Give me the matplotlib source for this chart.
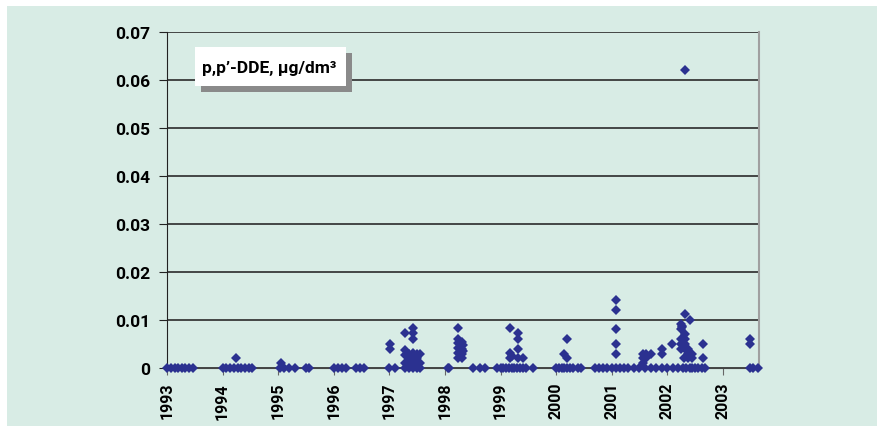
import matplotlib

matplotlib.use("Agg")

import matplotlib.pyplot as plt
from matplotlib.patches import Rectangle

plt.rcParams["font.family"] = ["Liberation Sans Narrow", "DejaVu Sans Condensed",
                               "Roboto", "DejaVu Sans"]
plt.rcParams["font.stretch"] = "condensed"

BG = "#d8ece5"
MARK = "#2b3190"

# sampling dates (decimal years) and p,p'-DDE concentrations, ug/dm3
dates_1993_1996 = [
    1993.0, 1993.07, 1993.14, 1993.2, 1993.27, 1993.33, 1993.4, 1993.47,
    1994.0, 1994.07, 1994.13, 1994.2, 1994.27, 1994.33, 1994.4, 1994.47, 1994.53, 1994.24,
    1995.03, 1995.05, 1995.1, 1995.2, 1995.3, 1995.5, 1995.55,
    1996.0, 1996.07, 1996.15, 1996.22, 1996.4, 1996.47, 1996.55,
]
values_1993_1996 = [
    0, 0, 0, 0, 0, 0, 0, 0,
    0, 0, 0, 0, 0, 0, 0, 0, 0, 0.002,
    0, 0.001, 0, 0, 0, 0, 0,
    0, 0, 0, 0, 0, 0, 0,
]

dates_1997_1998 = [
    1997.0, 1997.02, 1997.02, 1997.1,
    1997.29, 1997.29, 1997.29, 1997.29, 1997.29,
    1997.35, 1997.35, 1997.35,
    1997.43, 1997.43, 1997.43, 1997.43, 1997.43, 1997.43, 1997.43,
    1997.5, 1997.5, 1997.5, 1997.5,
    1997.55, 1997.55, 1997.55,
    1998.05, 1998.07,
    1998.24, 1998.24, 1998.24, 1998.24, 1998.24, 1998.24,
    1998.3, 1998.3, 1998.3, 1998.3, 1998.32, 1998.32,
    1998.5, 1998.63, 1998.72,
]
values_1997_1998 = [
    0, 0.005, 0.004, 0,
    0.0072, 0.0038, 0.0028, 0.001, 0,
    0.003, 0.002, 0,
    0.0083, 0.0072, 0.0061, 0.0031, 0.0021, 0.001, 0,
    0.003, 0.0021, 0.001, 0,
    0.003, 0.001, 0,
    0, 0,
    0.0083, 0.0061, 0.0052, 0.0042, 0.0031, 0.0021,
    0.0055, 0.004, 0.003, 0.0021, 0.0048, 0.0035,
    0, 0, 0,
]

dates_1999_2000 = [
    1998.93, 1999.0, 1999.05, 1999.1, 1999.15, 1999.2, 1999.25, 1999.3,
    1999.35, 1999.4, 1999.45, 1999.58,
    1999.17, 1999.17, 1999.17, 1999.2,
    1999.31, 1999.31, 1999.31, 1999.31, 1999.4,
    2000.0, 2000.05, 2000.1, 2000.15, 2000.2, 2000.25, 2000.3, 2000.4, 2000.45,
    2000.19, 2000.15, 2000.19,
]
values_1999_2000 = [
    0, 0, 0, 0, 0, 0, 0, 0,
    0, 0, 0, 0,
    0.0083, 0.0031, 0.0021, 0.0025,
    0.0072, 0.0061, 0.004, 0.0021, 0.0021,
    0, 0, 0, 0, 0, 0, 0, 0, 0,
    0.0061, 0.0029, 0.0021,
]

dates_2001_2003 = [
    2000.7, 2000.78, 2000.85, 2000.92, 2001.0, 2001.08, 2001.15, 2001.23,
    2001.3, 2001.4, 2001.5, 2001.6, 2001.7, 2001.8, 2001.9, 2002.0,
    2002.1, 2002.2, 2002.28, 2002.33, 2002.4, 2002.45, 2002.5, 2002.55,
    2002.62, 2002.67,
    2001.08, 2001.08, 2001.08, 2001.08, 2001.08,
    2001.56, 2001.56, 2001.56, 2001.62, 2001.62, 2001.7,
    2001.9, 2001.9, 2002.08,
    2002.32, 2002.32, 2002.41,
    2002.24, 2002.24, 2002.24, 2002.24, 2002.24, 2002.27, 2002.27,
    2002.32, 2002.32, 2002.32, 2002.32,
    2002.38, 2002.38, 2002.38, 2002.45, 2002.45, 2002.3,
    2002.65, 2002.65,
    2003.49, 2003.49, 2003.49, 2003.55, 2003.64,
]
values_2001_2003 = [
    0, 0, 0, 0, 0, 0, 0, 0,
    0, 0, 0, 0, 0, 0, 0, 0,
    0, 0, 0, 0, 0, 0, 0, 0,
    0, 0,
    0.0141, 0.0121, 0.0082, 0.005, 0.0029,
    0.0029, 0.0021, 0.001, 0.0029, 0.0021, 0.003,
    0.004, 0.0029, 0.005,
    0.0113, 0.062, 0.010,
    0.0091, 0.0082, 0.006, 0.005, 0.004, 0.0088, 0.0085,
    0.0071, 0.006, 0.005, 0.004,
    0.004, 0.003, 0.002, 0.003, 0.002, 0.002,
    0.005, 0.002,
    0.006, 0.005, 0, 0, 0,
]

year_ticks = list(range(1993, 2004))
value_ticks = [0, 0.01, 0.02, 0.03, 0.04, 0.05, 0.06, 0.07]
label_text = "p,p’-DDE, µg/dm³"

W, H = 877, 427
fig = plt.figure(figsize=(W / 100, H / 100), dpi=100, facecolor="white")
# green panel behind everything, leaving a thin white margin top and left
fig.patches.append(Rectangle((7 / W, 0), 1 - 7 / W, 1 - 7 / H,
                             transform=fig.transFigure, facecolor=BG,
                             edgecolor="none", zorder=-1))

ax = fig.add_axes([167 / W, 1 - 369 / H, (759 - 167) / W, (369 - 33) / H])
ax.set_facecolor(BG)

dates = dates_1993_1996 + dates_1997_1998 + dates_1999_2000 + dates_2001_2003
values = values_1993_1996 + values_1997_1998 + values_1999_2000 + values_2001_2003
ax.plot(dates, values, linestyle="none", marker="D", markersize=5.6,
        color=MARK, markeredgewidth=0, clip_on=False, zorder=5)

ax.set_xlim(1993.0, 2003.65)
ax.set_ylim(0, 0.07)
ax.set_xticks(year_ticks)
ax.set_xticklabels([str(y) for y in year_ticks], rotation=90,
                   fontsize=11.5, fontweight="bold")
ax.set_yticks(value_ticks)
ax.set_yticklabels(["0" if v == 0 else f"{v:.2f}" for v in value_ticks],
                   fontsize=12.5, fontweight="bold")
ax.tick_params(axis="x", direction="out", length=5, color="#666666", pad=5)
ax.tick_params(axis="y", direction="out", length=6, color="#222222", pad=6)

ax.yaxis.grid(True, color="#2a2a2a", linewidth=1.2)
ax.set_axisbelow(True)
ax.spines["left"].set_color("#222222")
ax.spines["bottom"].set_color("#444444")
ax.spines["top"].set_visible(False)
ax.spines["right"].set_color("#a0a0a0")
ax.spines["right"].set_linewidth(1.5)

# label box with a drop shadow, placed in pixel coordinates
px = fig.transFigure
fig.patches.append(Rectangle((201 / W, 1 - 93 / H), 151 / W, 39 / H,
                             transform=px, facecolor="#8a8a8a",
                             edgecolor="none", zorder=6))
fig.patches.append(Rectangle((195 / W, 1 - 87 / H), 151 / W, 39 / H,
                             transform=px, facecolor="white",
                             edgecolor="none", zorder=7))
fig.text(202 / W, 1 - 68 / H, label_text, fontsize=12.5, fontweight="bold",
         va="center", ha="left", zorder=8)

fig.savefig("out.png", dpi=100, facecolor=fig.get_facecolor())
